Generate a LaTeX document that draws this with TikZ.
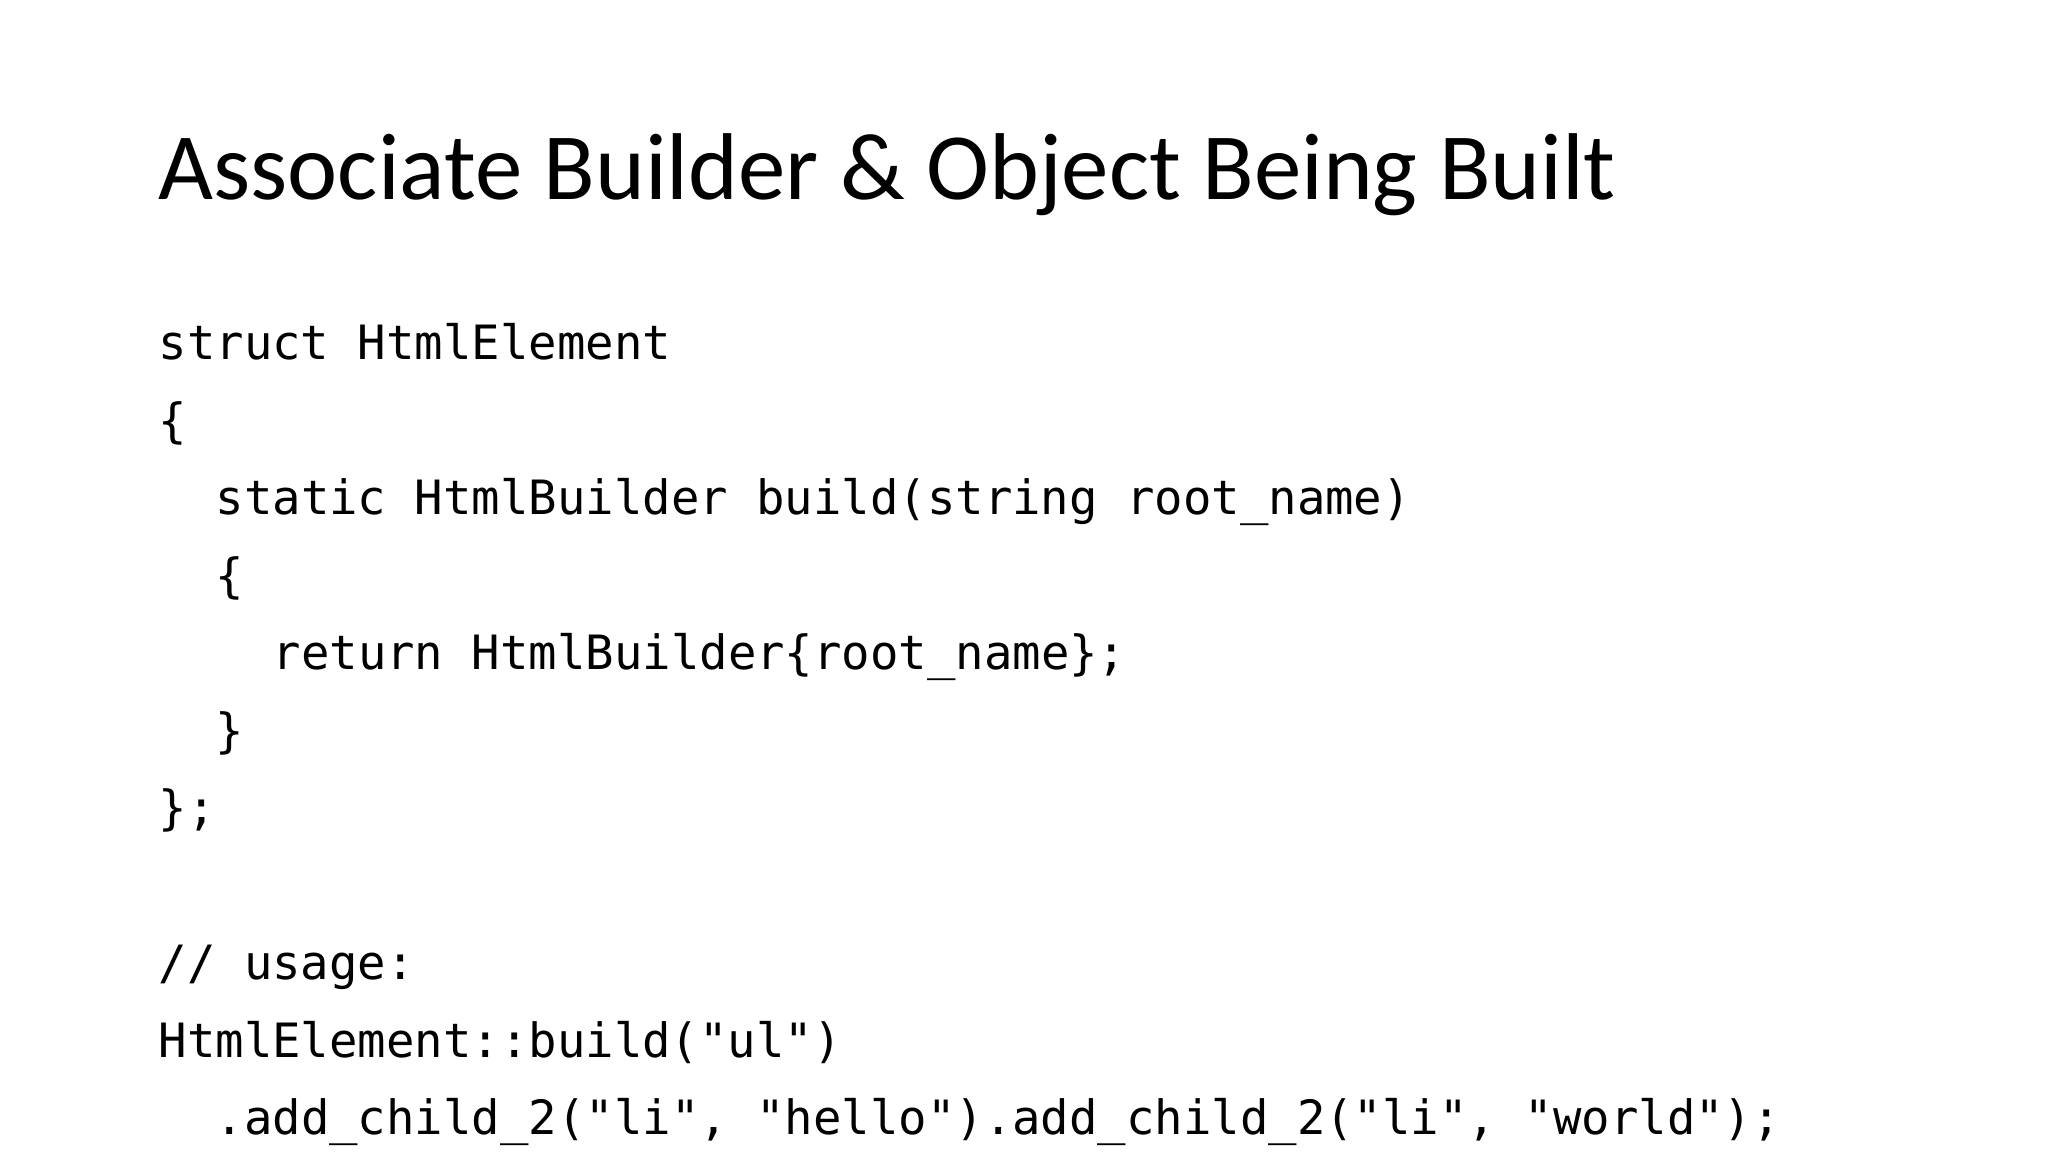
\documentclass[tikz,border=0pt]{standalone}
\usepackage{fontspec}
\setmainfont{Carlito}
\newfontfamily\codefont{DejaVu Sans Mono}
\begin{document}
\begin{tikzpicture}[x=1cm,y=1cm,
  code/.style={anchor=base west,inner sep=0pt,font=\codefont\fontsize{13.45pt}{16pt}\selectfont},
  ttl/.style={anchor=base west,inner sep=0pt,font=\fontsize{27pt}{32pt}\selectfont}]
\useasboundingbox[fill=white] (0,0) rectangle (20.48,11.52);
\node[ttl] (title) at (1.58,9.52) {Associate Builder \& Object Being Built};
\def\cw{0.285}
\def\ls{0.775}
\node[code] (l0) at (1.58,7.92) {struct HtmlElement};
\node[code] (l1) at (1.58,7.92-1*\ls) {\{};
\node[code] (l2) at (1.58+2*\cw,7.92-2*\ls) {static HtmlBuilder build(string root\_name)};
\node[code] (l3) at (1.58+2*\cw,7.92-3*\ls) {\{};
\node[code] (l4) at (1.58+4*\cw,7.92-4*\ls) {return HtmlBuilder\{root\_name\};};
\node[code] (l5) at (1.58+2*\cw,7.92-5*\ls) {\}};
\node[code] (l6) at (1.58,7.92-6*\ls) {\};};
\node[code] (l8) at (1.58,7.92-8*\ls) {// usage:};
\node[code] (l9) at (1.58,7.92-9*\ls) {HtmlElement::build("ul")};
\node[code] (l10) at (1.58+2*\cw,7.92-10*\ls) {.add\_child\_2("li", "hello").add\_child\_2("li", "world");};
\end{tikzpicture}
\end{document}
